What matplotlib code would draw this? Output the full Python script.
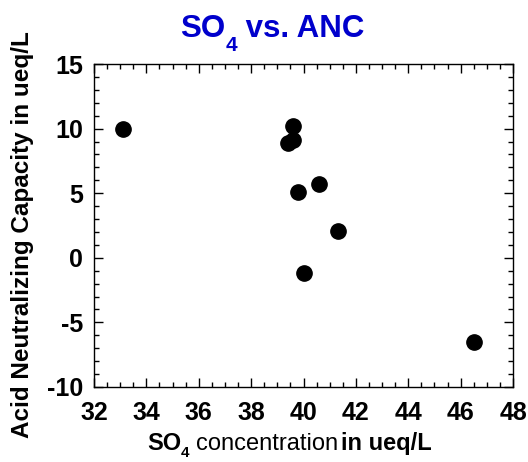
import matplotlib
matplotlib.use("Agg")
import matplotlib.pyplot as plt
from matplotlib.ticker import MultipleLocator

# SO4 concentration (ueq/L) and acid neutralizing capacity (ueq/L)
so4 = [33.1, 39.4, 39.6, 39.6, 39.8, 40.0, 40.6, 41.3, 46.5]
anc = [10.0, 8.9, 9.1, 10.2, 5.1, -1.2, 5.7, 2.1, -6.5]

x_ticks = [32, 34, 36, 38, 40, 42, 44, 46, 48]
y_ticks = [-10, -5, 0, 5, 10, 15]

W, H = 528, 462
plt.rcParams["font.family"] = ["Liberation Sans", "DejaVu Sans"]
plt.rcParams["axes.unicode_minus"] = False

fig = plt.figure(figsize=(W / 100, H / 100), dpi=100)
ax = fig.add_axes([94 / W, 1 - 387 / H, (513 - 94) / W, (387 - 64) / H])

ax.plot(so4, anc, "o", color="black", markersize=11)

ax.set_xlim(32, 48)
ax.set_ylim(-10, 15)
ax.set_xticks(x_ticks)
ax.set_yticks(y_ticks)
ax.xaxis.set_minor_locator(MultipleLocator(0.5))
ax.yaxis.set_minor_locator(MultipleLocator(1))
ax.tick_params(which="both", direction="in", top=True, right=True, width=1)
ax.tick_params(which="major", length=6.5, labelsize=18)
ax.tick_params(axis="x", which="major", pad=10)
ax.tick_params(axis="y", which="major", pad=8)
ax.tick_params(which="minor", length=3.5)
for lab in ax.get_xticklabels() + ax.get_yticklabels():
    lab.set_fontweight("bold")
for sp in ax.spines.values():
    sp.set_linewidth(1)

fig.text(23 / W, 1 - 235 / H, "Acid Neutralizing Capacity in ueq/L",
         rotation=90, ha="center", va="center", fontsize=17.5, fontweight="bold")

renderer = fig.canvas.get_renderer()


def put_pieces(pieces, x0, y0):
    # write a row of text pieces one after another (pixel coords from top-left)
    x = x0
    for s, size, weight, drop, color, gap in pieces:
        x += gap
        t = fig.text(x / W, 1 - (y0 + drop) / H, s, ha="left", va="baseline",
                     fontsize=size, fontweight=weight, color=color)
        x += t.get_window_extent(renderer).width


blue = "#0000CC"
put_pieces([
    ("SO", 22.5, "bold", 0, blue, 0),
    ("4", 15, "bold", 14, blue, 0),
    (" vs. ANC", 22.5, "bold", 0, blue, 0),
], 180, 37)

put_pieces([
    ("SO", 17, "bold", 0, "black", 0),
    ("4", 11, "bold", 7, "black", 0),
    ("concentration", 17, "normal", 0, "black", 6),
    ("in ueq/L", 17, "bold", 0, "black", 3),
], 147, 450)

fig.savefig("out.png", dpi=100)
